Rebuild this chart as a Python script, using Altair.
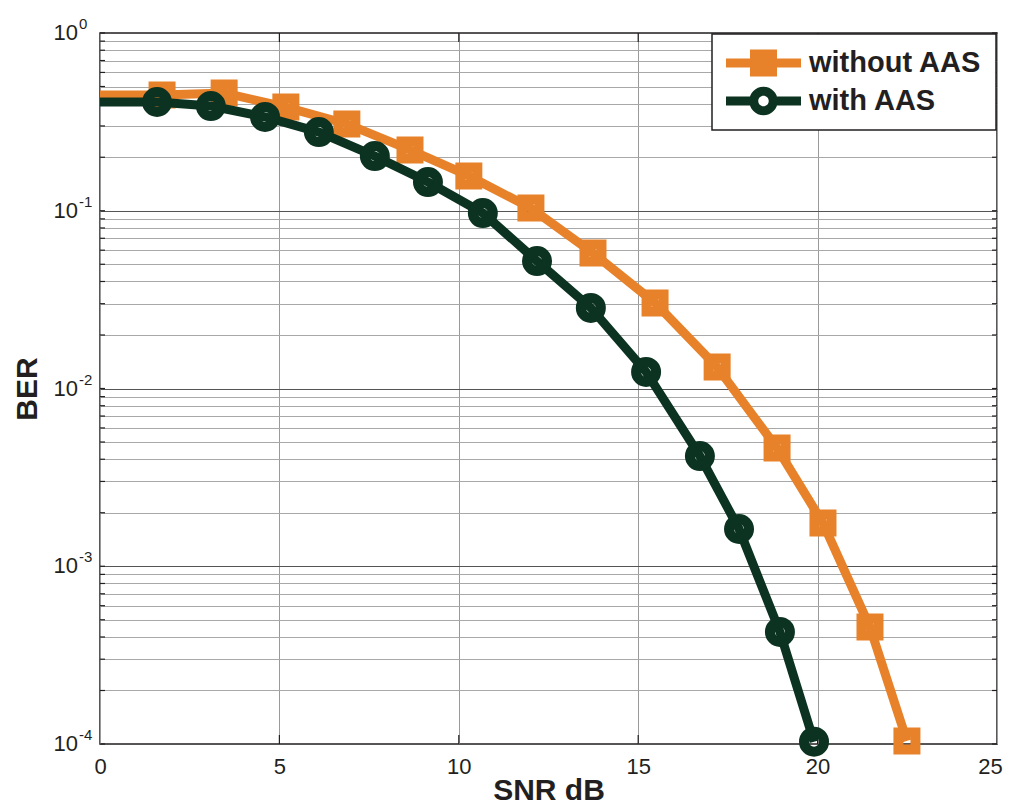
import altair as alt
import pandas as pd

# ---- data ----
snr_without = [0, 1.73, 3.46, 5.18, 6.88, 8.64, 10.28, 12.01, 13.74, 15.47, 17.2, 18.87, 20.15, 21.46, 22.49]
ber_without = [0.448, 0.448, 0.46, 0.383, 0.308, 0.22, 0.157, 0.1036, 0.0578, 0.0303, 0.0132, 0.00462, 0.00175, 0.000455, 0.000104]
snr_with = [0, 1.59, 3.09, 4.6, 6.1, 7.66, 9.14, 10.67, 12.18, 13.68, 15.22, 16.72, 17.81, 18.95, 19.9]
ber_with = [0.409, 0.409, 0.388, 0.337, 0.277, 0.203, 0.145, 0.0971, 0.0521, 0.0284, 0.0124, 0.00417, 0.00162, 0.000427, 0.000103]

series_names = ["without AAS", "with AAS"]
series_colors = ["#E8822A", "#0C3321"]

x_ticks = [0, 5, 10, 15, 20, 25]
y_decades = [1, 0.1, 0.01, 0.001, 0.0001]
y_exponents = ["0", "-1", "-2", "-3", "-4"]
y_grid = [m * d for d in [1e-4, 1e-3, 1e-2, 1e-1] for m in range(1, 10)] + [1.0]

FONT = "Liberation Sans"
TXT = "#231F20"
W, H = 897, 711

df_wo = pd.DataFrame({"snr": snr_without, "ber": ber_without, "series": series_names[0]})
df_w = pd.DataFrame({"snr": snr_with, "ber": ber_with, "series": series_names[1]})
df_all = pd.concat([df_wo, df_w], ignore_index=True)
df_lab = pd.DataFrame({"v": y_decades, "base": ["10"] * len(y_decades), "exp": y_exponents})
df_xt = pd.DataFrame({"x": x_ticks[1:-1]})
df_yt = pd.DataFrame({"y": y_grid})

xscale = alt.Scale(domain=[0, 25], nice=False)
yscale = alt.Scale(type="log", domain=[1e-4, 1], nice=False)

xenc = alt.X("snr:Q", scale=xscale, axis=alt.Axis(
    values=x_ticks, grid=True, gridColor="#9a9a9a", gridWidth=1,
    ticks=False, tickSize=0, domain=False, labelFlush=False,
    labelOffset={"condition": {"test": "datum.value == 25", "value": -7}, "value": 0},
    labelFont=FONT, labelFontSize=22, labelColor=TXT, labelPadding=12,
    title="SNR dB", titleFont=FONT, titleFontSize=30, titleFontWeight="bold",
    titleColor=TXT, titleX=448.5, titleY=55, titleBaseline="alphabetic"))
yenc = alt.Y("ber:Q", scale=yscale, axis=alt.Axis(
    values=y_grid, grid=True,
    gridColor={"condition": {"test": "abs(log(datum.value)/LN10 - round(log(datum.value)/LN10)) < 1e-6",
                             "value": "#555555"}, "value": "#a8a8a8"},
    gridWidth=1, ticks=False, tickSize=0, domain=False, labels=False,
    title="BER", titleFont=FONT, titleFontSize=30, titleFontWeight="bold",
    titleColor=TXT, titleAngle=-90, titleX=-64, titleY=355.5, titleBaseline="alphabetic",
    titleAlign="center"))

# inward tick marks (MATLAB style)
xt_bottom = alt.Chart(df_xt).mark_rule(color=TXT, strokeWidth=1.2).encode(
    x=alt.X("x:Q", scale=xscale), y=alt.value(H), y2=alt.value(H - 9))
xt_top = alt.Chart(df_xt).mark_rule(color=TXT, strokeWidth=1.2).encode(
    x=alt.X("x:Q", scale=xscale), y=alt.value(0), y2=alt.value(9))
yt_left = alt.Chart(df_yt).mark_rule(color=TXT, strokeWidth=1.2).encode(
    y=alt.Y("y:Q", scale=yscale), x=alt.value(0), x2=alt.value(5))
yt_right = alt.Chart(df_yt).mark_rule(color=TXT, strokeWidth=1.2).encode(
    y=alt.Y("y:Q", scale=yscale), x=alt.value(W), x2=alt.value(W - 5))

line_wo = alt.Chart(df_wo).mark_line(color=series_colors[0], strokeWidth=9).encode(x=xenc, y=yenc)
pts_wo = alt.Chart(df_wo).transform_filter("datum.snr > 0").mark_point(
    shape="square", filled=False, color=series_colors[0], strokeWidth=10, size=289, opacity=1
).encode(x="snr:Q", y="ber:Q")
line_w = alt.Chart(df_w).mark_line(color=series_colors[1], strokeWidth=9).encode(x="snr:Q", y="ber:Q")
pts_w = alt.Chart(df_w).transform_filter("datum.snr > 0").mark_point(
    shape="circle", filled=False, color=series_colors[1], strokeWidth=10, size=400, opacity=1
).encode(x="snr:Q", y="ber:Q")

sq_path = "M-2.5,-0.3H-0.9V-0.9H0.9V-0.3H2.5V0.3H0.9V0.9H-0.9V0.3H-2.5Z"
ci_path = ("M-2.5,-0.3H-0.9V0.3H-2.5Z M0.9,-0.3H2.5V0.3H0.9Z "
           "M0.95,0A0.95,0.95,0,1,1,-0.95,0A0.95,0.95,0,1,1,0.95,0Z "
           "M0.35,0A0.35,0.35,0,1,0,-0.35,0A0.35,0.35,0,1,0,0.35,0Z")

# legend-only layer: no points drawn, the legend comes from the explicit scale domains
legend_layer = alt.Chart(df_all).transform_filter("datum.snr < 0").mark_point(
    filled=True, opacity=1).encode(
    x="snr:Q", y="ber:Q",
    color=alt.Color("series:N", scale=alt.Scale(domain=series_names, range=series_colors),
                    legend=alt.Legend(title=None, orient="top-right", offset=1,
                                      fillColor="white", strokeColor="#231F20",
                                      padding=14, symbolOffset=22.5, labelOffset=30.5,
                                      symbolSize=900, symbolOpacity=1, symbolStrokeWidth=0,
                                      labelFont=FONT, labelFontSize=29, labelFontWeight="bold",
                                      labelColor=TXT, labelLimit=400, rowPadding=8)),
    shape=alt.Shape("series:N", scale=alt.Scale(domain=series_names, range=[sq_path, ci_path])),
)

lab_base = alt.Chart(df_lab).mark_text(align="right", baseline="middle", fontSize=22,
                                       font=FONT, color=TXT, dx=-22).encode(
    x=alt.value(0), y=alt.Y("v:Q", scale=yscale), text="base:N")
lab_exp = alt.Chart(df_lab).mark_text(align="left", baseline="middle", fontSize=15,
                                      font=FONT, color=TXT, dx=-21, dy=-9).encode(
    x=alt.value(0), y=alt.Y("v:Q", scale=yscale), text="exp:N")

chart = alt.layer(
    line_wo, xt_bottom, xt_top, yt_left, yt_right,
    pts_wo, line_w, pts_w, legend_layer, lab_base, lab_exp
).properties(
    width=W, height=H,
    autosize=alt.AutoSizeParams(type="none"),
    padding={"left": 92, "top": 25, "right": 7, "bottom": 60},
).configure_view(stroke="#231F20", strokeWidth=1.5).configure_legend(strokeWidth=1.5)

chart.save("out.html", embed_options={"renderer": "svg", "actions": False})
